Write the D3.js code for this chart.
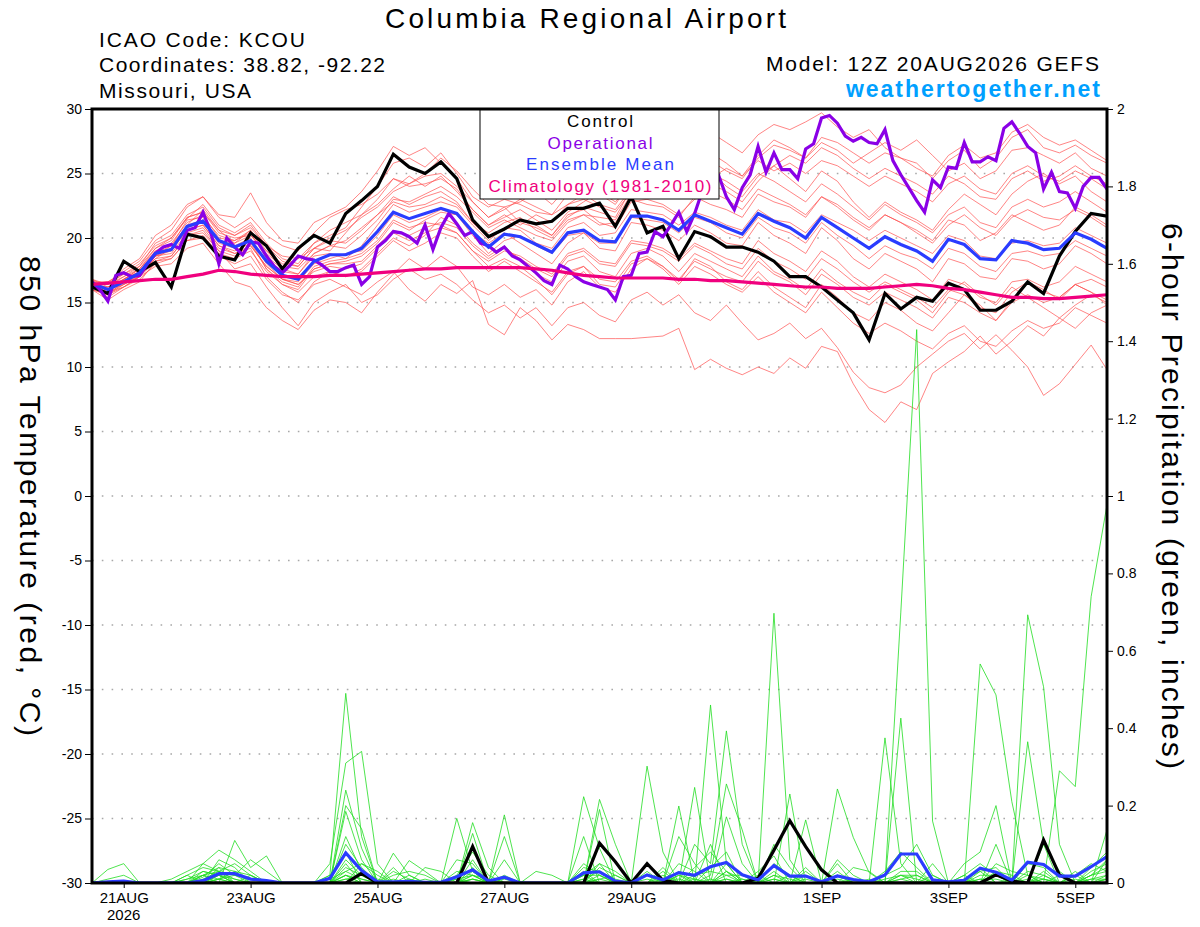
<!DOCTYPE html>
<html>
<head>
<meta charset="utf-8">
<script src="https://cdn.jsdelivr.net/npm/d3@7"></script>
<style>
    body { margin: 0; background: #fff; }
    svg text { font-family: "Liberation Sans", Arial, Helvetica, sans-serif; }
</style>
</head>
<body>
<svg id="chart" width="1200" height="927"></svg>
<script>
// 850 hPa temperature (°C), 6-hourly from 20AUG2026 12Z, 65 steps
const controlTemp = [
    16.2, 15.7, 18.2, 17.4, 18.1, 16.2, 20.3, 20.0, 18.6, 18.3, 20.4, 19.4, 17.6,
    19.2, 20.2, 19.6, 21.9, 22.9, 24.0, 26.5, 25.5, 25.0, 25.9, 24.6, 21.4, 20.1,
    20.7, 21.4, 21.1, 21.3, 22.3, 22.3, 22.7, 20.9, 23.2, 20.4, 20.9, 18.4, 20.5,
    20.1, 19.3, 19.3, 18.9, 18.2, 17.0, 17.0, 16.2, 15.2, 14.2, 12.1, 15.7, 14.5,
    15.4, 15.1, 16.5, 16.0, 14.4, 14.4, 15.1, 16.6, 15.7, 18.6, 20.5, 21.9, 21.7
];
const meanTemp = [
    16.5, 16.0, 16.6, 17.3, 18.8, 19.1, 20.9, 21.3, 19.8, 19.3, 19.8, 18.2, 17.1,
    16.8, 18.2, 18.7, 18.7, 19.2, 20.5, 22.0, 21.5, 21.9, 22.3, 21.9, 20.5, 19.3,
    20.3, 20.1, 19.5, 18.9, 20.4, 20.6, 19.8, 19.7, 21.7, 21.7, 21.4, 20.6, 21.8,
    21.3, 20.8, 20.3, 21.9, 21.3, 20.8, 20.0, 21.6, 20.8, 20.0, 19.2, 20.1, 19.5,
    19.0, 18.2, 19.9, 19.5, 18.4, 18.3, 19.8, 19.6, 19.1, 19.2, 20.4, 19.9, 19.2
];
const climoTemp = [
    16.4, 16.5, 16.6, 16.7, 16.8, 16.8, 17.0, 17.2, 17.5, 17.4, 17.2, 17.1, 17.0,
    17.0, 17.0, 17.1, 17.1, 17.2, 17.3, 17.4, 17.5, 17.6, 17.6, 17.7, 17.7, 17.7,
    17.7, 17.7, 17.6, 17.5, 17.3, 17.1, 17.0, 16.9, 16.9, 16.9, 16.9, 16.8, 16.8,
    16.7, 16.7, 16.6, 16.5, 16.4, 16.3, 16.2, 16.2, 16.1, 16.1, 16.1, 16.2, 16.3,
    16.4, 16.3, 16.1, 16.0, 15.8, 15.6, 15.4, 15.4, 15.3, 15.3, 15.4, 15.5, 15.6
];
// operational run is 3-hourly, 129 steps
const operTemp = [
    16.6, 16.0, 15.1, 17.1, 17.3, 17.0, 17.1, 18.0, 18.8, 19.3, 19.5, 19.2, 20.6,
    20.8, 22.0, 20.4, 18.0, 20.0, 19.3, 18.7, 19.7, 19.6, 18.6, 17.8, 17.3, 17.9,
    18.6, 18.4, 18.3, 17.9, 17.4, 17.4, 17.7, 17.9, 16.4, 17.0, 19.3, 19.8, 20.5,
    20.4, 20.1, 19.6, 21.0, 19.1, 20.8, 21.9, 21.1, 20.2, 20.5, 19.6, 19.4, 18.9,
    19.3, 18.6, 18.3, 17.8, 17.3, 16.7, 16.4, 17.9, 17.6, 17.0, 16.6, 16.4, 16.2,
    16.0, 15.2, 17.0, 17.1, 18.8, 18.9, 20.5, 20.1, 21.0, 22.0, 20.5, 21.9, 23.7,
    25.3, 24.9, 23.2, 22.2, 23.9, 24.9, 27.1, 25.1, 26.6, 25.3, 25.3, 24.6, 26.9,
    27.3, 29.3, 29.5, 28.9, 27.9, 27.5, 27.8, 27.4, 27.3, 28.4, 26.0, 24.9, 23.9,
    22.9, 22.0, 24.5, 23.9, 25.5, 25.4, 27.4, 25.9, 25.9, 26.3, 26.0, 28.5, 29.0,
    28.1, 27.1, 26.6, 23.8, 25.1, 23.6, 23.5, 22.3, 24.0, 24.7, 24.7, 23.8
];

// ensemble members, temperature
const tempM01 = [16.8,16.2,17.0,17.6,19.2,20.0,21.5,22.6,21.0,20.4,21.2,19.6,18.4, 18.0,19.6,20.2,20.8,22.4,24.0,25.8,26.2,25.5,26.6,25.0,23.2,22.4, 23.0,22.6,22.0,21.8,23.4,23.8,24.4,23.6,25.6,26.4,27.2,26.0,27.8, 28.2,27.4,26.6,28.0,28.8,28.4,29.0,29.7,28.6,27.8,28.4,27.0,26.2, 25.8,24.6,26.0,26.8,25.4,26.2,27.8,28.4,27.0,26.6,27.2,26.4,25.8];
const tempM02 = [16.4,16.6,17.4,18.2,19.8,20.6,22.4,23.2,21.6,20.8,21.6,20.2,19.4, 19.0,20.4,21.6,22.2,22.6,23.4,24.6,24.2,25.0,26.2,25.2,23.8,22.6, 22.4,21.2,20.8,20.2,21.6,22.4,22.0,21.6,23.8,24.8,25.6,24.4,26.2, 26.6,25.8,24.8,26.4,27.6,27.0,26.2,27.4,26.8,25.8,26.6,27.4,26.8, 27.6,26.4,25.2,25.8,24.6,25.2,26.8,27.0,26.4,25.8,26.6,25.4,24.8];
const tempM03 = [16.0,15.6,16.4,17.0,18.6,19.4,21.0,22.2,20.6,19.6,20.2,18.8,17.8, 18.4,19.2,19.0,20.4,21.8,22.6,23.8,24.8,24.0,24.8,23.6,22.2,21.0, 21.6,22.2,21.4,20.6,22.0,22.8,23.6,22.8,24.2,25.0,24.0,23.2,24.6, 25.2,24.0,23.2,24.8,25.6,24.6,23.6,25.2,24.4,22.8,21.6,22.8,22.0, 21.4,20.6,22.2,23.4,22.6,21.8,23.4,24.4,25.0,24.2,24.8,23.6,22.8];
const tempM04 = [16.6,16.0,16.8,17.4,19.0,19.0,20.6,21.0,19.4,19.0,19.6,17.6,16.4, 16.0,17.6,18.0,18.2,18.6,19.6,21.2,20.6,21.4,22.0,21.8,20.4,19.6, 20.4,19.6,18.8,18.0,19.6,20.4,19.2,19.0,21.2,21.0,20.6,19.8,21.0, 20.4,19.6,19.4,21.2,20.2,19.6,18.8,20.8,19.8,18.4,17.6,18.8,18.2, 17.6,16.6,18.4,18.0,17.0,16.8,18.4,18.2,17.6,18.0,19.4,18.8,18.0];
const tempM05 = [16.2,15.4,16.2,16.8,18.0,18.4,19.8,20.0,18.6,18.0,18.6,16.8,15.6, 15.2,16.4,16.8,16.2,15.6,16.6,17.4,16.0,15.1,16.4,15.7,16.7,13.3, 12.5,14.6,13.6,12.1,13.3,12.9,12.2,12.2,12.2,12.3,12.4,13.0,9.8, 10.6,9.9,9.4,10.0,9.5,10.7,9.9,11.6,11.2,8.7,6.7,5.7,7.3, 6.7,9.5,10.4,11.2,12.4,11.0,12.0,13.2,12.4,13.8,13.0,14.2,14.8];
const tempM06 = [16.0,15.2,16.0,16.6,18.2,18.6,20.2,20.6,19.0,17.6,18.0,16.2,14.6, 13.2,15.0,15.8,16.4,15.0,15.6,16.8,17.6,16.8,17.2,16.4,15.2,14.2, 14.8,13.8,14.6,13.2,14.6,15.0,14.0,13.5,15.2,15.8,14.8,15.6,14.2, 13.6,14.8,13.4,12.1,12.6,13.4,12.2,13.0,11.5,9.6,8.4,8.0,8.6, 10.0,11.0,12.0,12.6,11.4,12.5,11.3,10.0,7.8,8.7,10.2,11.7,9.8];
const tempM07 = [16.4,15.8,16.2,17.0,17.8,18.0,19.2,19.6,18.0,16.6,16.2,14.6,13.6, 12.9,14.4,15.2,15.0,14.2,15.8,17.2,18.4,17.6,18.6,17.8,16.2,15.6, 16.4,15.4,16.0,14.8,16.6,17.4,16.2,15.8,17.6,18.4,17.8,16.6,18.4, 17.8,16.6,16.0,17.4,16.2,15.4,14.6,16.4,15.4,14.2,13.6,15.0,14.4, 13.4,12.8,14.2,15.6,14.8,13.6,15.2,16.6,16.0,15.2,16.4,15.8,14.8];
const tempM08 = [16.6,16.4,17.2,17.8,19.6,20.2,21.8,22.4,20.8,20.2,20.8,19.4,18.2, 17.8,19.2,19.8,19.6,20.6,21.8,23.2,22.6,23.2,23.6,22.8,21.2,20.4, 21.2,21.6,20.6,20.0,21.4,21.8,21.0,21.2,23.0,22.6,22.4,21.6,23.2, 22.6,22.2,21.6,23.4,22.8,22.4,21.6,23.2,22.6,21.6,20.8,21.8,21.2, 20.6,19.8,21.4,21.0,19.8,20.4,21.8,21.2,20.6,21.0,22.4,21.8,21.0];
const tempM09 = [16.2,16.2,16.8,17.6,19.0,19.6,21.2,21.8,20.0,19.8,20.4,18.4,17.4, 17.2,18.6,18.8,18.4,19.4,21.0,22.6,22.0,22.4,22.8,22.4,21.0,19.8, 20.8,20.6,19.6,19.2,20.8,21.2,20.2,20.4,22.2,22.0,21.8,21.0,22.0, 21.6,21.0,20.6,22.2,21.4,21.2,20.4,21.8,21.2,20.6,19.8,20.6,20.0, 19.4,18.8,20.2,19.8,18.6,18.4,19.6,19.8,19.4,19.6,20.8,20.2,19.6];
const tempM10 = [16.8,15.8,16.4,17.2,18.4,18.6,20.2,20.4,19.0,18.6,19.4,17.8,16.8, 16.4,17.4,17.8,17.6,18.0,19.2,20.4,19.8,20.4,20.8,20.4,19.0,18.2, 19.0,18.6,17.8,17.2,18.8,19.2,18.2,18.0,19.8,19.6,19.2,18.4,19.6, 19.0,18.4,18.0,19.8,18.8,18.2,17.4,19.0,18.2,17.0,16.2,17.2,16.6, 16.0,15.2,16.8,16.4,15.4,15.0,16.6,16.8,16.2,16.6,17.8,17.2,16.6];
const tempM11 = [16.4,16.4,17.6,18.4,20.2,21.0,22.6,23.2,21.8,21.6,23.5,21.2,19.8, 19.6,21.2,21.8,22.4,23.6,25.2,27.1,26.4,27.0,25.8,24.6,22.8,21.6, 22.2,23.0,22.4,21.8,22.6,23.4,22.6,22.2,23.8,24.6,24.4,23.4,24.8, 24.2,23.6,22.8,24.4,25.6,26.4,25.8,27.0,26.4,25.4,24.6,25.4,24.8, 24.2,23.4,24.8,24.2,23.2,23.0,24.6,25.2,24.4,24.8,25.6,24.8,24.2];
const tempM12 = [16.0,15.6,16.6,17.0,18.6,18.8,20.4,20.8,19.2,18.8,19.2,17.0,15.8, 15.0,16.6,17.4,17.0,17.6,18.8,20.0,19.4,20.2,21.6,21.0,19.6,18.6, 19.4,18.2,17.2,16.6,18.2,18.6,17.4,17.0,18.8,19.2,18.6,17.4,18.8, 18.2,17.6,17.0,18.6,17.4,16.8,16.0,17.6,16.6,15.8,15.2,16.4,15.8, 15.2,14.2,15.8,16.6,15.6,14.8,16.2,15.4,14.6,13.8,14.8,15.6,15.0];
const tempM13 = [16.6,16.0,16.8,17.6,18.8,19.4,21.4,21.6,20.2,19.8,20.6,18.6,17.6, 17.2,18.8,19.4,19.2,20.2,21.4,23.0,22.8,23.4,24.0,23.2,22.0,20.8, 21.4,20.8,20.2,19.8,21.2,21.8,21.6,21.4,23.4,24.2,25.6,24.6,26.4, 26.0,25.2,24.6,26.2,27.2,26.8,26.2,27.8,27.4,26.6,25.8,26.6,26.2, 25.4,24.8,26.4,27.2,26.2,26.6,28.2,28.8,27.8,27.2,27.6,26.8,26.0];
const tempM14 = [16.4,16.2,16.6,17.2,18.8,19.2,20.8,21.4,19.8,19.4,20.0,18.0,16.8, 16.6,18.0,18.4,18.8,19.0,20.2,21.8,21.2,21.6,22.2,21.8,20.2,18.8, 19.8,20.2,19.4,18.8,20.2,20.4,19.6,19.6,21.6,21.4,21.2,20.4,21.6, 21.2,20.4,20.0,21.6,20.8,20.4,19.6,21.2,20.2,19.4,18.4,19.4,18.8, 18.4,17.6,19.2,18.8,17.8,17.4,18.8,19.0,18.6,18.8,19.8,19.2,18.6];
const tempM15 = [16.8,16.4,17.0,17.8,19.2,19.8,21.6,22.0,20.4,20.0,20.2,19.0,18.0, 17.8,19.2,20.0,20.6,21.6,22.4,23.6,24.2,24.8,25.0,24.0,22.8,21.6, 22.4,22.8,23.6,22.6,24.0,24.6,23.4,22.6,24.4,25.2,26.0,24.8,25.8, 25.0,24.4,23.6,25.0,24.4,23.6,22.8,24.2,23.4,22.4,21.4,22.6,21.8, 21.2,20.4,21.8,22.4,21.2,20.8,22.4,23.0,22.4,22.8,23.6,22.8,22.0];
const tempM16 = [16.2,15.8,16.8,17.4,18.6,19.0,20.8,21.2,19.6,19.2,19.8,17.6,16.6, 16.2,17.8,18.2,18.4,18.8,19.8,21.4,20.8,21.2,21.0,20.4,19.0,17.8, 18.4,17.8,16.8,15.6,17.2,17.8,16.4,16.2,18.0,18.4,17.6,16.4,17.8, 17.2,16.4,15.8,17.0,15.8,15.0,14.2,15.8,14.6,13.4,12.6,13.4,12.8, 12.0,11.4,12.6,13.2,12.0,11.6,12.8,13.6,13.0,13.4,14.6,14.0,13.4];
const tempM17 = [16.4,15.6,16.2,17.0,18.4,19.2,21.0,21.4,19.8,19.6,20.6,19.0,17.8, 17.6,18.8,19.4,19.8,20.8,21.8,22.8,22.4,22.6,23.2,22.6,21.2,20.0, 20.6,21.4,21.0,20.2,21.8,22.2,21.2,20.8,22.8,23.0,22.6,21.8,23.0, 23.6,23.0,22.2,23.8,23.2,22.6,21.8,23.2,22.4,21.4,20.6,21.8,21.2, 20.4,19.6,21.0,21.8,20.8,20.2,21.6,22.2,21.6,21.4,22.2,21.6,20.8];
const tempM18 = [16.6,16.0,16.4,17.0,18.2,18.4,19.8,20.2,18.8,18.4,19.0,17.4,16.4, 15.8,17.0,17.4,17.0,17.4,18.6,19.8,19.0,19.6,20.4,20.0,18.6,17.4, 18.2,17.4,16.6,15.8,17.4,17.8,16.8,16.6,18.2,18.6,17.8,16.8,18.2, 17.6,17.0,16.6,18.2,17.2,16.6,15.6,17.2,16.4,15.4,14.8,15.8,15.2, 14.6,13.8,15.4,15.0,14.2,13.6,15.0,15.6,15.0,15.4,16.4,15.8,15.2];
const tempM19 = [16.6,16.6,17.2,18.0,19.4,20.0,21.6,22.0,20.6,20.2,21.0,19.4,18.6, 18.4,19.6,20.6,21.2,21.8,23.0,24.6,24.0,24.2,24.6,23.8,22.2,21.0, 21.8,21.0,21.8,21.2,22.6,23.0,22.4,22.0,23.6,23.8,24.8,25.6,25.0, 24.6,25.4,24.8,26.0,25.2,25.8,25.0,26.0,25.6,24.8,24.0,24.8,24.2, 23.6,22.8,24.2,24.8,23.8,23.4,25.0,25.6,24.8,24.4,25.2,24.6,23.8];
const tempM20 = [16.2,16.0,16.6,17.4,18.6,19.2,20.6,21.0,19.4,18.8,19.4,17.8,16.8, 16.4,17.6,18.0,18.0,18.2,19.4,20.6,20.2,20.8,21.2,20.8,19.4,18.4, 19.2,18.4,17.6,17.0,18.6,19.0,18.0,17.8,19.6,19.4,19.0,18.2,19.4, 18.8,18.0,17.6,19.2,18.2,17.6,16.8,18.4,17.6,16.6,15.8,16.6,16.0, 15.4,14.6,16.0,15.6,14.6,14.2,15.8,16.6,15.8,15.4,16.4,16.8,16.2];

// 6-hour precipitation (inches)
const controlPrecip = [
    0, 0, 0, 0, 0, 0, 0, 0, 0, 0, 0, 0, 0,
    0, 0, 0, 0, 0.025, 0, 0, 0, 0, 0, 0, 0.094, 0,
    0, 0, 0, 0, 0, 0, 0.103, 0.055, 0, 0.05, 0.007, 0, 0,
    0, 0, 0, 0.012, 0.085, 0.161, 0.094, 0.034, 0, 0, 0, 0, 0,
    0, 0, 0, 0, 0, 0.021, 0.005, 0, 0.111, 0.021, 0, 0, 0
];
const meanPrecip = [
    0, 0.003, 0.005, 0, 0, 0, 0, 0.006, 0.024, 0.024, 0.01, 0.006, 0,
    0, 0, 0.012, 0.078, 0.032, 0.003, 0.003, 0.004, 0.002, 0.002, 0.016, 0.034, 0.005,
    0.015, 0, 0, 0, 0, 0.026, 0.029, 0.005, 0, 0.021, 0.008, 0.027, 0.02,
    0.042, 0.053, 0.021, 0.008, 0.045, 0.018, 0.018, 0.003, 0.018, 0.009, 0.003, 0.021, 0.075,
    0.075, 0.008, 0.003, 0.007, 0.038, 0.028, 0.007, 0.054, 0.048, 0.018, 0.018, 0.042, 0.068
];
const rainM01 = [0,0.035,0.05,0,0,0,0,0.02,0.04,0.03,0,0,0, 0,0,0.02,0.49,0.12,0,0,0.02,0,0,0,0,0, 0,0,0,0,0,0.02,0.05,0,0,0,0.04,0,0, 0.46,0.05,0,0,0,0,0,0,0.03,0,0,0,0, 0,0,0,0.02,0.05,0.02,0,0,0.1,0.03,0,0.02,0.06];
const rainM02 = [0,0,0,0,0,0.01,0.03,0.05,0.085,0.06,0.03,0,0, 0,0,0.05,0.31,0.34,0.05,0,0,0,0,0,0.06,0, 0,0,0,0,0,0.223,0.09,0,0,0,0,0,0.1, 0.05,0.393,0.1,0,0.05,0.02,0,0,0.243,0.118,0.027,0,0, 0,0,0,0,0.566,0.486,0.21,0.02,0,0,0,0,0];
const rainM03 = [0,0,0,0,0,0,0,0,0.02,0,0,0,0, 0,0,0,0.24,0.09,0,0,0,0,0,0,0,0, 0.176,0,0,0,0,0,0,0,0,0,0,0,0, 0,0,0,0,0.697,0.06,0,0,0,0,0,0,0.7, 1.43,0.16,0,0,0,0,0,0,0,0,0,0,0];
const rainM04 = [0,0,0,0,0,0,0,0,0,0.11,0.04,0.07,0, 0,0,0,0.2,0.14,0,0.077,0.02,0,0,0.167,0.03,0, 0,0,0,0,0,0,0.216,0.1,0,0,0,0,0, 0.02,0.256,0.137,0,0,0,0.163,0,0,0,0,0,0, 0,0,0,0,0,0,0,0.693,0.507,0.1,0,0,0];
const rainM05 = [0,0,0,0,0,0,0,0.05,0.03,0,0,0,0, 0,0,0,0.185,0.06,0,0,0.058,0.03,0,0,0.156,0.04, 0,0,0,0,0,0,0,0,0,0.302,0.08,0,0, 0,0.171,0.05,0,0,0,0,0,0,0,0,0.375,0.05, 0,0,0,0,0,0,0,0,0,0.29,0.249,0.74,0.977];
const rainM06 = [0,0,0,0,0,0,0.02,0,0.06,0.04,0,0,0, 0,0,0,0.1,0.04,0,0,0,0,0,0,0.128,0, 0.12,0,0,0,0,0,0.19,0,0,0,0,0.199,0, 0.1,0,0,0,0,0.23,0,0,0.05,0,0,0,0, 0,0,0,0,0,0,0,0.365,0.1,0,0,0,0.137];
const rainM07 = [0,0,0,0,0,0,0,0,0.04,0,0.02,0,0, 0,0,0.02,0.08,0,0,0,0,0.04,0.03,0,0,0, 0,0,0,0,0,0.12,0,0,0,0,0,0,0.247, 0,0,0,0,0,0,0,0,0,0,0,0,0.426, 0,0,0,0.05,0.08,0.2,0,0,0,0,0,0,0.06];
const rainM08 = [0,0,0,0,0,0,0,0,0,0,0,0,0, 0,0,0,0.05,0,0,0.04,0,0,0,0.06,0.05,0, 0,0,0.03,0.02,0,0,0,0,0,0,0,0.12,0.05, 0,0,0,0.03,0.07,0,0.04,0,0,0,0,0,0, 0,0.05,0,0,0,0.1,0,0,0,0,0.03,0,0];
const rainM09 = [0,0,0,0,0,0,0.01,0.03,0.02,0,0,0,0, 0,0,0,0,0.05,0.03,0,0,0,0,0,0.04,0, 0,0,0,0,0,0,0.05,0.03,0,0,0.03,0,0, 0,0.05,0,0,0,0,0,0,0,0.04,0.03,0,0, 0,0,0,0,0.04,0,0,0,0.03,0,0,0.02,0.04];
const rainM10 = [0,0,0,0,0,0,0,0.015,0.05,0.02,0,0,0, 0,0,0,0.06,0.02,0,0.03,0.01,0,0,0.02,0.08,0.02, 0,0,0,0,0,0.04,0.03,0,0,0.05,0,0.03,0, 0.04,0.08,0,0,0.03,0,0.03,0,0,0,0,0.02,0.04, 0.1,0.02,0,0,0.03,0.04,0,0.05,0.04,0,0,0.03,0.05];
const rainM11 = [0,0,0,0,0,0,0,0.02,0.03,0.05,0.02,0,0, 0,0,0,0.03,0.05,0.02,0,0,0,0,0.03,0.02,0, 0.06,0,0,0,0,0,0.04,0.02,0,0.02,0,0.05,0.03, 0,0.03,0,0.02,0,0,0.02,0,0.06,0.02,0,0,0.02, 0,0,0,0.02,0,0.03,0.02,0,0.02,0,0,0.04,0.08];
const rainM12 = [0,0,0,0,0,0,0,0,0.01,0.02,0.06,0.03,0, 0,0,0,0.12,0.03,0,0,0,0.01,0,0,0.03,0, 0,0,0,0,0,0.05,0.02,0,0,0,0.02,0,0.04, 0.08,0.03,0,0,0.1,0.04,0,0,0,0,0,0.03,0.08, 0.04,0,0,0,0,0.05,0.03,0.02,0,0,0.02,0.05,0.03];
const rainM13 = [0,0,0,0,0,0,0.02,0.04,0.03,0.01,0,0,0, 0,0,0,0.04,0.02,0,0.02,0.03,0.02,0,0,0.02,0, 0.02,0,0,0,0,0.03,0,0,0,0.03,0,0,0.02, 0.03,0.02,0.02,0,0.02,0,0,0,0.02,0,0,0,0.03, 0.03,0,0,0.01,0.03,0,0,0.03,0.02,0,0,0.02,0.03];
const rainM14 = [0,0,0,0,0,0,0,0.03,0.02,0,0,0,0, 0,0,0,0.02,0,0,0,0,0,0,0.01,0.02,0, 0,0,0,0,0,0.02,0.02,0,0,0,0,0.02,0, 0,0.02,0,0,0,0.02,0,0,0,0,0,0,0.02, 0.02,0,0,0,0.02,0.02,0,0,0,0,0.02,0,0.02];
const rainM15 = [0,0,0,0,0,0,0.01,0.02,0.01,0,0,0,0, 0,0,0.01,0.03,0.01,0,0,0,0,0,0,0.01,0, 0,0,0,0,0,0.01,0.03,0.01,0,0.01,0,0,0.01, 0,0.03,0.01,0,0.01,0,0,0,0.01,0,0,0.01,0.02, 0.01,0,0,0,0.01,0,0,0.01,0,0,0,0.01,0.02];
const rainM16 = [0,0.01,0.02,0,0,0,0,0,0.02,0.01,0,0,0, 0,0,0,0.01,0.02,0,0,0.01,0,0,0,0.02,0.01, 0,0,0,0,0,0,0.01,0.02,0,0,0.01,0,0, 0.01,0,0,0,0.02,0.01,0,0,0,0,0.01,0,0, 0,0.02,0,0,0,0,0.01,0,0,0.02,0,0,0.01];
const rainM17 = [0,0,0,0,0,0,0,0.01,0.03,0.02,0.01,0,0, 0,0,0,0.02,0,0,0.01,0,0,0,0,0.01,0, 0.01,0,0,0,0,0.02,0,0,0,0.02,0.01,0.01,0, 0,0.01,0,0,0,0,0.01,0,0.02,0,0,0,0.01, 0,0,0,0,0.01,0.01,0,0.02,0.01,0,0,0.01,0.01];
const rainM18 = [0,0,0,0,0,0,0,0,0.01,0.03,0.02,0,0, 0,0,0,0,0.03,0.01,0,0,0,0,0.01,0,0, 0,0,0,0,0,0,0.02,0,0,0,0,0.02,0.01, 0,0,0.01,0,0.01,0,0,0,0,0.01,0,0,0.01, 0.02,0,0,0.01,0,0,0,0,0.01,0,0.01,0,0];
const rainM19 = [0,0,0,0,0,0,0,0.02,0,0,0,0,0, 0,0,0,0.02,0.01,0,0,0,0,0,0,0,0, 0,0,0,0,0,0.01,0,0,0,0,0,0,0, 0,0.01,0,0,0,0,0,0,0,0,0,0,0, 0,0,0,0,0,0,0,0,0.01,0,0,0,0.01];
const rainM20 = [0,0,0,0,0,0,0,0,0.01,0,0,0,0, 0,0,0,0.01,0,0,0,0,0,0,0,0.01,0, 0,0,0,0,0,0,0.01,0,0,0,0,0,0, 0,0,0,0,0,0,0,0,0,0,0,0,0, 0,0,0,0,0,0,0,0,0,0,0,0,0.01];

const tempMembers = [tempM01, tempM02, tempM03, tempM04, tempM05, tempM06, tempM07, tempM08, tempM09, tempM10,
    tempM11, tempM12, tempM13, tempM14, tempM15, tempM16, tempM17, tempM18, tempM19, tempM20];
const rainMembers = [rainM01, rainM02, rainM03, rainM04, rainM05, rainM06, rainM07, rainM08, rainM09, rainM10,
    rainM11, rainM12, rainM13, rainM14, rainM15, rainM16, rainM17, rainM18, rainM19, rainM20];

// axis ticks
const dateTicks = ['2026-08-21', '2026-08-23', '2026-08-25', '2026-08-27', '2026-08-29', '2026-09-01', '2026-09-03', '2026-09-05'];
const dateLabels = ['21AUG', '23AUG', '25AUG', '27AUG', '29AUG', '1SEP', '3SEP', '5SEP'];
const tempTicks = [-30, -25, -20, -15, -10, -5, 0, 5, 10, 15, 20, 25, 30];
const precipTicks = [0, 0.2, 0.4, 0.6, 0.8, 1, 1.2, 1.4, 1.6, 1.8, 2];

const legendItems = [
    { text: 'Control', color: '#000000', len: 66 },
    { text: 'Operational', color: '#8a00e6', len: 105 },
    { text: 'Ensemble Mean', color: '#2a3cff', len: 148 },
    { text: 'Climatology (1981-2010)', color: '#f0007e', len: 223 }
];

// ---------------------------------------------------------------
const margin = { top: 109, right: 93, bottom: 44, left: 92 };
const width = 1200 - margin.left - margin.right;
const height = 927 - margin.top - margin.bottom;

const start = Date.UTC(2026, 7, 20, 12);
const step = 6 * 3600 * 1000;
const times = d3.range(controlTemp.length).map(i => new Date(start + i * step));
const times3h = d3.range(operTemp.length).map(i => new Date(start + i * step / 2));

const svg = d3.select('#chart');
const plot = svg.append('g').attr('transform', `translate(${margin.left},${margin.top})`);

const x = d3.scaleUtc().domain([times[0], times[times.length - 1]]).range([0, width]);
const yT = d3.scaleLinear().domain([-30, 30]).range([height, 0]);
const yP = d3.scaleLinear().domain([0, 2]).range([height, 0]);

svg.append('defs').append('clipPath')
    .attr('id', 'clip')
    .append('rect')
    .attr('width', width)
    .attr('height', height);

// dotted grid on temperature ticks
plot.append('g')
    .selectAll('line')
    .data(tempTicks.filter(t => t > -30 && t < 30))
    .enter()
    .append('line')
    .attr('x1', 0)
    .attr('x2', width)
    .attr('y1', d => yT(d))
    .attr('y2', d => yT(d))
    .attr('stroke', '#a8a8a8')
    .attr('stroke-width', 1.6)
    .attr('stroke-dasharray', '1.6,8.2');

const lines = plot.append('g').attr('clip-path', 'url(#clip)');

const tempLine = d3.line().x((d, i) => x(times[i])).y(d => yT(d));
const operLine = d3.line().x((d, i) => x(times3h[i])).y(d => yT(d));
const rainLine = d3.line().x((d, i) => x(times[i])).y(d => yP(d));

lines.selectAll('.member-t')
    .data(tempMembers)
    .enter()
    .append('path')
    .attr('class', 'member-t')
    .attr('d', tempLine)
    .attr('fill', 'none')
    .attr('stroke', '#ff4a4a')
    .attr('stroke-opacity', 0.85)
    .attr('stroke-width', 0.8);

lines.selectAll('.member-p')
    .data(rainMembers)
    .enter()
    .append('path')
    .attr('class', 'member-p')
    .attr('d', rainLine)
    .attr('fill', 'none')
    .attr('stroke', '#22dd22')
    .attr('stroke-width', 0.8);

function mainLine(data, gen, color) {
    lines.append('path')
        .datum(data)
        .attr('d', gen)
        .attr('fill', 'none')
        .attr('stroke', color)
        .attr('stroke-width', 3.2)
        .attr('stroke-linejoin', 'miter');
}

mainLine(controlPrecip, rainLine, '#000000');
mainLine(meanPrecip, rainLine, '#2a3cff');
mainLine(controlTemp, tempLine, '#000000');
mainLine(operTemp, operLine, '#8a00e6');
mainLine(meanTemp, tempLine, '#2a3cff');
mainLine(climoTemp, tempLine, '#f0007e');

// legend box
const legend = plot.append('g').attr('transform', `translate(${480 - margin.left},0)`);
legend.append('rect')
    .attr('width', 239)
    .attr('height', 90)
    .attr('fill', '#fff')
    .attr('stroke', '#000')
    .attr('stroke-width', 1);
legend.selectAll('text')
    .data(legendItems)
    .enter()
    .append('text')
    .attr('x', 120)
    .attr('y', (d, i) => 18 + i * 21.6)
    .attr('text-anchor', 'middle')
    .attr('font-size', 17)
    .attr('fill', d => d.color)
    .attr('textLength', d => d.len)
    .attr('lengthAdjust', 'spacing')
    .text(d => d.text);

// axes
const tickFont = g => g.selectAll('text').attr('font-size', 14).attr('fill', '#000')
    .style('font-family', '"Liberation Sans", Arial, sans-serif');

plot.append('g')
    .call(d3.axisLeft(yT).tickValues(tempTicks).tickFormat(d => String(d)).tickSize(7).tickPadding(3))
    .call(g => g.select('.domain').remove())
    .call(tickFont);

plot.append('g')
    .attr('transform', `translate(${width},0)`)
    .call(d3.axisRight(yP).tickValues(precipTicks).tickFormat(d => String(+d.toFixed(1))).tickSize(6).tickPadding(4))
    .call(g => g.select('.domain').remove())
    .call(tickFont);

plot.append('g')
    .attr('transform', `translate(0,${height})`)
    .call(d3.axisBottom(x)
        .tickValues(dateTicks.map(d => new Date(d + 'T00:00:00Z')))
        .tickFormat((d, i) => dateLabels[i])
        .tickSize(5)
        .tickPadding(4))
    .call(g => g.select('.domain').remove())
    .call(tickFont)
    .call(g => g.selectAll('text').attr('font-size', 15));

plot.append('text')
    .attr('x', x(new Date('2026-08-21T00:00:00Z')))
    .attr('y', height + 37)
    .attr('text-anchor', 'middle')
    .attr('font-size', 15)
    .text('2026');

// frame
plot.append('rect')
    .attr('width', width)
    .attr('height', height)
    .attr('fill', 'none')
    .attr('stroke', '#000')
    .attr('stroke-width', 3);

// axis titles
svg.append('text')
    .attr('transform', `translate(20,${margin.top + height / 2}) rotate(90)`)
    .attr('text-anchor', 'middle')
    .attr('font-size', 30)
    .attr('textLength', 480)
    .attr('lengthAdjust', 'spacing')
    .text('850 hPa Temperature (red, °C)');

svg.append('text')
    .attr('transform', `translate(1162,${margin.top + height / 2}) rotate(90)`)
    .attr('text-anchor', 'middle')
    .attr('font-size', 30)
    .attr('textLength', 546)
    .attr('lengthAdjust', 'spacing')
    .text('6-hour Precipitation (green, inches)');

// header
const header = [
    { text: 'Columbia Regional Airport', x: 385, y: 28, size: 28, len: 401, color: '#000', weight: 'normal' },
    { text: 'ICAO Code: KCOU', x: 99, y: 47, size: 21, len: 206, color: '#000', weight: 'normal' },
    { text: 'Coordinates: 38.82, -92.22', x: 99, y: 72, size: 21, len: 286, color: '#000', weight: 'normal' },
    { text: 'Missouri, USA', x: 99, y: 98, size: 21, len: 152, color: '#000', weight: 'normal' },
    { text: 'Model: 12Z 20AUG2026 GEFS', x: 766, y: 71, size: 21, len: 333, color: '#000', weight: 'normal' },
    { text: 'weathertogether.net', x: 846, y: 97, size: 23, len: 254, color: '#00a0ff', weight: 'bold' }
];
svg.selectAll('.header')
    .data(header)
    .enter()
    .append('text')
    .attr('class', 'header')
    .attr('x', d => d.x)
    .attr('y', d => d.y)
    .attr('font-size', d => d.size)
    .attr('font-weight', d => d.weight)
    .attr('fill', d => d.color)
    .attr('textLength', d => d.len)
    .attr('lengthAdjust', 'spacing')
    .text(d => d.text);
</script>
</body>
</html>
